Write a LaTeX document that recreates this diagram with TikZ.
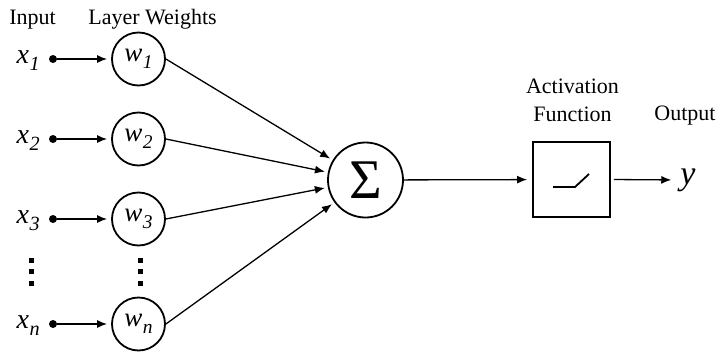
\documentclass[tikz,border=0pt]{standalone}
\usepackage{fontspec}
\setmainfont{Liberation Serif}[ItalicFont=Liberation Serif Italic]
\usetikzlibrary{arrows.meta}
\newcommand{\vlab}[2]{#1\kern0.02em\raisebox{-0.28em}{\scalebox{0.72}{#2}}}
\begin{document}
\begin{tikzpicture}[x=1pt,y=-1pt,
  lbl/.style={font=\fontsize{22}{28}\selectfont, inner sep=0},
  wnode/.style={circle, draw, line width=1.8pt, minimum size=53pt, inner sep=0,
    font=\fontsize{27}{30}\selectfont\itshape},
  xlab/.style={inner sep=0, anchor=base east, font=\fontsize{28}{30}\selectfont\itshape},
  dotnode/.style={circle, fill, minimum size=8pt, inner sep=0},
  conn/.style={line width=1.3pt, -{Latex[length=10pt,width=8pt]}, shorten >=4pt},
  vdot/.style={fill, minimum size=5pt, inner sep=0}
]
\useasboundingbox (0,0) rectangle (718,351);

% headings
\node[lbl, anchor=base] (tin) at (32.5,24) {Input};
\node[lbl, anchor=base] (tlw) at (152.5,24) {Layer Weights};
\node[lbl, anchor=south, align=center] (tact) at (572.5,121.5) {Activation\\Function};
\node[lbl, anchor=base] (tout) at (685,120) {Output};

% inputs
\node[xlab] (x1) at (40,63) {\vlab{x}{1}};
\node[xlab] (x2) at (40,143) {\vlab{x}{2}};
\node[xlab] (x3) at (40,223) {\vlab{x}{3}};
\node[xlab] (xn) at (40,328) {\vlab{x}{n}};

\node[dotnode] (d1) at (53,59) {};
\node[dotnode] (d2) at (53,139) {};
\node[dotnode] (d3) at (53,219) {};
\node[dotnode] (dn) at (53,324) {};

% weights
\node[wnode] (w1) at (138.5,59) {\vlab{w}{1}};
\node[wnode] (w2) at (138.5,139) {\vlab{w}{2}};
\node[wnode] (w3) at (138.5,219) {\vlab{w}{3}};
\node[wnode] (wn) at (138.5,324) {\vlab{w}{n}};

% vertical dots
\node[vdot] (a1) at (31.5,260) {};
\node[vdot] (a2) at (31.5,271.5) {};
\node[vdot] (a3) at (31.5,283) {};
\node[vdot] (b1) at (140,260) {};
\node[vdot] (b2) at (140,271.5) {};
\node[vdot] (b3) at (140,283) {};

% sum
\node[circle, draw, line width=1.8pt, minimum size=75pt, inner sep=0,
  font=\fontsize{56}{60}\selectfont] (s) at (365.5,180) {Σ};

% activation box
\node[draw, line width=1.8pt, minimum width=77pt, minimum height=75pt, inner sep=0] (act) at (571.5,179.5) {};
\draw[line width=1.8pt] ([shift={(-18.5,7.5)}]act.center) -- ([shift={(3.5,7.5)}]act.center) -- ([shift={(17.5,-5.5)}]act.center);

% output
\node[inner sep=0, font=\fontsize{34}{36}\selectfont\itshape] (yl) at (688,180) {y};

% connectors
\draw[conn] (d1) -- (w1);
\draw[conn] (d2) -- (w2);
\draw[conn] (d3) -- (w3);
\draw[conn] (dn) -- (wn);

\draw[conn, shorten >=3pt] (w1.east) -- (s);
\draw[conn, shorten >=3pt] (w2.east) -- (s);
\draw[conn, shorten >=3pt] (w3.east) -- (s);
\draw[conn, shorten >=3pt] (wn.east) -- (s);

\draw[conn, shorten >=5pt] (s) -- (act);
\draw[conn, shorten <=3pt, shorten >=9pt] (act.east) -- (yl.west);
\end{tikzpicture}
\end{document}
